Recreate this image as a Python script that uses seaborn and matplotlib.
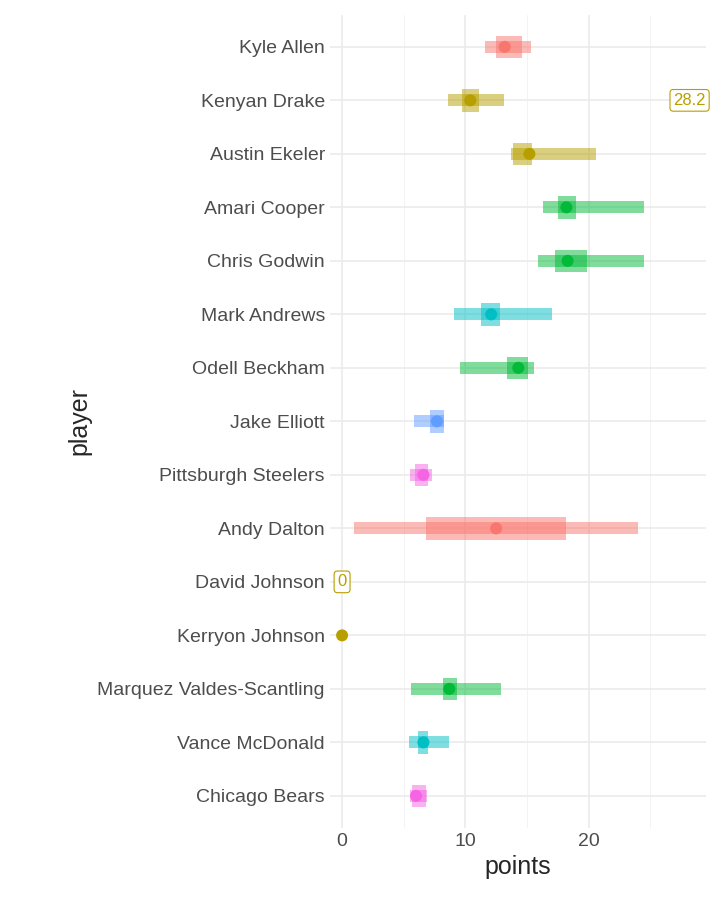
import matplotlib
matplotlib.use("Agg")
import matplotlib.pyplot as plt
import seaborn as sns
import pandas as pd
import numpy as np

players = ["Kyle Allen","Kenyan Drake","Austin Ekeler","Amari Cooper","Chris Godwin","Mark Andrews",
           "Odell Beckham","Jake Elliott","Pittsburgh Steelers","Andy Dalton","David Johnson",
           "Kerryon Johnson","Marquez Valdes-Scantling","Vance McDonald","Chicago Bears"]
positions = ["QB","RB","RB","WR","WR","TE","WR","K","DST","QB","RB","RB","WR","TE","DST"]
outer_lo = [11.6,8.6,13.7,16.3,15.9,9.1,9.6,5.8,5.5,1.0,np.nan,np.nan,5.6,5.4,5.5]
outer_hi = [15.3,13.1,20.6,24.5,24.5,17.0,15.6,8.3,7.3,24.0,np.nan,np.nan,12.9,8.7,6.9]
inner_lo = [12.5,9.7,13.9,17.5,17.3,11.3,13.4,7.1,5.9,6.8,np.nan,np.nan,8.2,6.2,5.7]
inner_hi = [14.6,11.1,15.4,19.0,19.9,12.8,15.1,8.3,7.0,18.2,np.nan,np.nan,9.3,7.0,6.8]
median = [13.2,10.4,15.2,18.2,18.3,12.1,14.3,7.7,6.6,12.5,np.nan,0.0,8.7,6.6,6.0]
label_players = ["Kenyan Drake","David Johnson"]
label_values = [28.2,0]

pal = {"QB":"#F8766D","RB":"#B79F00","WR":"#00BA38","TE":"#00BFC4","K":"#619CFF","DST":"#F564E3"}

df = pd.DataFrame(dict(player=players,pos=positions,olo=outer_lo,ohi=outer_hi,
                       ilo=inner_lo,ihi=inner_hi,med=median))
df["y"] = np.arange(len(df))

sns.set_theme(style="whitegrid")
plt.rcParams["font.family"] = ["Liberation Sans", "DejaVu Sans"]
fig = plt.figure(figsize=(7.2,9.21), dpi=100)
ax = fig.add_axes([0.458,0.101,0.522,0.883])

for _, r in df.iterrows():
    c = pal[r.pos]
    if not np.isnan(r.olo):
        ax.barh(r.y, r.ohi-r.olo, left=r.olo, height=0.22, color=c, alpha=0.5, lw=0)
        ax.barh(r.y, r.ihi-r.ilo, left=r.ilo, height=0.42, color=c, alpha=0.5, lw=0)
sns.scatterplot(data=df.dropna(subset=["med"]), x="med", y="y", hue="pos", palette=pal,
                s=75, edgecolor="none", legend=False, ax=ax, zorder=5)
for p, v in zip(label_players, label_values):
    yy = players.index(p)
    ax.text(v, yy, f"{v:g}", ha="center", va="center", color=pal["RB"], fontsize=12,
            bbox=dict(boxstyle="round,pad=0.2", fc="white", ec=pal["RB"], lw=0.8), zorder=6)

ax.set_ylim(len(df)-0.4, -0.6)
ax.set_xlim(-1.0, 29.5)
ax.set_xticks([0,10,20])
ax.set_xticks([5,15,25], minor=True)
ax.set_yticks(df.y)
ax.set_yticklabels(players)
ax.tick_params(labelsize=14, colors="#4d4d4d", length=0)
ax.tick_params(which="minor", length=0)
ax.set_xlabel("points", fontsize=18)
ax.set_ylabel("player", fontsize=18)
for s in ax.spines.values():
    s.set_visible(False)
ax.grid(True, which="major", color="#ebebeb", lw=1.2)
ax.grid(True, which="minor", axis="x", color="#f3f3f3", lw=0.7)
ax.set_axisbelow(True)
fig.savefig("out.png", dpi=100)
